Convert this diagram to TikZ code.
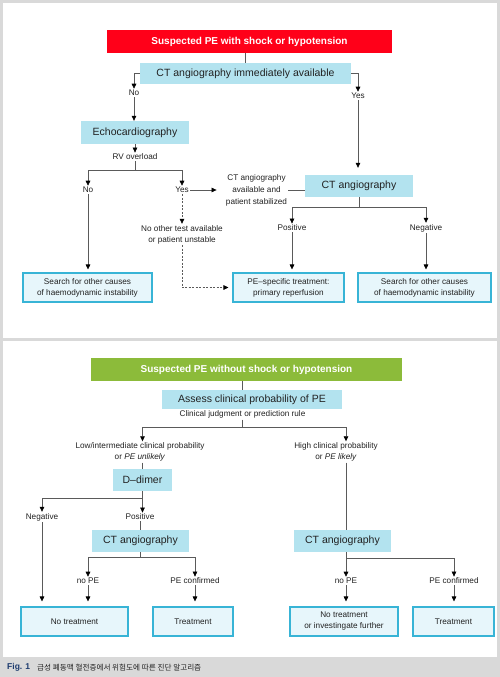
\documentclass[tikz,border=0pt]{standalone}
\usepackage{fontspec}
\setmainfont{Liberation Sans}
\newfontfamily\krfont{Noto Sans CJK KR}
\usetikzlibrary{arrows.meta}
\definecolor{bgray}{HTML}{D9D9D9}
\definecolor{pered}{HTML}{FF0019}
\definecolor{pegreen}{HTML}{8CBB3A}
\definecolor{qblue}{HTML}{B3E3EF}
\definecolor{ofill}{HTML}{E7F6FB}
\definecolor{ocyan}{HTML}{38B4D6}
\definecolor{lgray}{HTML}{5A5A5A}
\definecolor{txt}{HTML}{222222}
\definecolor{navy}{HTML}{1B3A6E}
\begin{document}
\begin{tikzpicture}[x=1pt,y=-1pt,
  hdr/.style={inner sep=0pt, text=white, font=\bfseries\fontsize{10}{12}\selectfont, minimum height=23pt},
  qbox/.style={fill=qblue, inner sep=0pt, text=txt, font=\fontsize{10.5}{12}\selectfont},
  obox/.style={draw=ocyan, line width=1.1pt, fill=ofill, inner sep=0pt, minimum height=29pt, align=center, text=txt, font=\fontsize{8.2}{11}\selectfont},
  lbl/.style={inner sep=1.2pt, align=center, text=txt, font=\fontsize{8.2}{11}\selectfont},
  ln/.style={draw=lgray, line width=0.6pt},
  arr/.style={ln, -{Triangle[length=5pt,width=4.6pt,color=black,fill=black]}},
  oarr/.style={arr, shorten >=3pt},
  dsh/.style={dash pattern=on 2pt off 1.5pt}
]
% backgrounds
\fill[bgray] (0,0) rectangle (500,677);
\fill[white] (3,3) rectangle (497,338);
\fill[white] (3,341) rectangle (497,657);
\node[anchor=west, inner sep=0pt, text=navy, font=\bfseries\fontsize{8.5}{10}\selectfont] (fig) at (7,667.5) {Fig. 1};
\node[anchor=west, inner sep=0pt, text=txt, font=\krfont\fontsize{7.6}{9}\selectfont] (cap) at (37,667.5) {급성 폐동맥 혈전증에서 위험도에 따른 진단 알고리즘};

% ---------- panel 1 ----------
\node[hdr, fill=pered, minimum width=285pt] (red) at (249.5,41.5) {Suspected PE with shock or hypotension};
\node[qbox, minimum width=211pt, minimum height=21pt] (ct1) at (245.5,73.5) {CT angiography immediately available};
\node[qbox, minimum width=108pt, minimum height=23pt] (echo) at (135,132.5) {Echocardiography};
\node[qbox, minimum width=108pt, minimum height=22pt] (ct2) at (359,186) {CT angiography};
\node[obox, minimum width=129pt] (srch1) at (87.5,287.5) {Search for other causes\\of haemodynamic instability};
\node[obox, minimum width=111pt] (pe) at (288.5,287.5) {PE–specific treatment:\\primary reperfusion};
\node[obox, minimum width=133pt] (srch2) at (424.5,287.5) {Search for other causes\\of haemodynamic instability};

\node[lbl] (lNo1) at (134,93) {No};
\node[lbl] (lYes1) at (358,96) {Yes};
\node[lbl] (lRV) at (135,157) {RV overload};
\node[lbl] (lNo2) at (88,190) {No};
\node[lbl] (lYes2) at (182,190) {Yes};
\node[lbl, font=\fontsize{8.2}{12}\selectfont] (lCT) at (256.5,190) {CT angiography\\available and\\patient stabilized};
\node[lbl] (lNoOther) at (182,234.5) {No other test available\\or patient unstable};
\node[lbl] (lPos1) at (292,228) {Positive};
\node[lbl] (lNeg1) at (426,228) {Negative};
\coordinate (j1) at (135,170);
\coordinate (j2) at (359,207);

\draw[ln] (ct1.north |- red.south) -- (ct1.north);
\draw[arr] (ct1.west) -| (lNo1.north);
\draw[arr] (lNo1.south) -- (lNo1.south |- echo.north);
\draw[arr] (ct1.east) -| (lYes1.north);
\draw[arr, shorten >=7pt] (lYes1.south) -- (lYes1.south |- ct2.north);
\draw[arr] (echo.south) -- (lRV.north);
\draw[ln] (lRV.south) -- (j1);
\draw[arr] (j1) -| (lNo2.north);
\draw[arr] (j1) -| (lYes2.north);
\draw[oarr] (lNo2.south) -- (lNo2.south |- srch1.north);
\draw[arr, shorten >=8pt] (lYes2.east) -- (lYes2.east -| lCT.west);
\draw[ln] (lCT.east) -- (lCT.east -| ct2.west);
\draw[arr, dsh] (lYes2.south) -- (lNoOther.north);
\draw[arr, dsh, shorten >=4pt] (lNoOther.south) |- (pe.west);
\draw[ln] (ct2.south) -- (j2);
\draw[arr] (j2) -| (lPos1.north);
\draw[arr] (j2) -| (lNeg1.north);
\draw[oarr] (lPos1.south) -- (lPos1.south |- pe.north);
\draw[oarr] (lNeg1.south) -- (lNeg1.south |- srch2.north);

% ---------- panel 2 ----------
\node[hdr, fill=pegreen, minimum width=311pt] (green) at (246.5,369.5) {Suspected PE without shock or hypotension};
\node[qbox, minimum width=180pt, minimum height=19pt] (assess) at (252,399.5) {Assess clinical probability of PE};
\node[lbl] (lClin) at (242.5,414.5) {Clinical judgment or prediction rule};
\node[lbl] (lLow) at (140,452) {Low/intermediate clinical probability\\or \textit{PE unlikely}};
\node[lbl] (lHigh) at (336,452) {High clinical probability\\or \textit{PE likely}};
\node[qbox, minimum width=59pt, minimum height=22pt] (dd) at (142.5,480) {D–dimer};
\node[lbl] (lNeg2) at (42,517) {Negative};
\node[lbl] (lPos2) at (140,517) {Positive};
\node[qbox, minimum width=97pt, minimum height=22pt] (ct3) at (140.5,541) {CT angiography};
\node[qbox, minimum width=97pt, minimum height=22pt] (ct4) at (342.5,541) {CT angiography};
\node[lbl] (lnoPE1) at (88,581) {no PE};
\node[lbl] (lPEc1) at (195,581) {PE confirmed};
\node[lbl] (lnoPE2) at (346,581) {no PE};
\node[lbl] (lPEc2) at (454,581) {PE confirmed};
\node[obox, minimum width=107pt] (notr1) at (74.5,621.5) {No treatment};
\node[obox, minimum width=80pt] (tr1) at (193,621.5) {Treatment};
\node[obox, minimum width=108pt] (notr2) at (344,621.5) {No treatment\\or investingate further};
\node[obox, minimum width=81pt] (tr2) at (453.5,621.5) {Treatment};
\coordinate (j3) at (242.5,427);
\coordinate (j4) at (142.5,498);
\coordinate (j5) at (140.5,557.5);
\coordinate (j6) at (346,558);

\draw[ln] (lClin.north |- green.south) -- (lClin.north |- assess.north);
\draw[ln] (lClin.south) -- (j3);
\draw[arr] (j3) -| (dd.north |- lLow.north);
\draw[arr] (j3) -| (lnoPE2.north |- lHigh.north);
\draw[ln] (dd.north |- lLow.south) -- (dd.north);
\draw[ln] (lnoPE2.north |- lHigh.south) -- (lnoPE2.north |- ct4.north);
\draw[ln] (dd.south) -- (j4);
\draw[arr] (j4) -| (lNeg2.north);
\draw[arr] (j4) -- (j4 |- lPos2.north);
\draw[arr, shorten >=5pt] (lNeg2.south) -- (lNeg2.south |- notr1.north);
\draw[ln] (lPos2.south) -- (lPos2.south |- ct3.north);
\draw[ln] (ct3.south) -- (j5);
\draw[arr] (j5) -| (lnoPE1.north);
\draw[arr] (j5) -| (lPEc1.north);
\draw[arr, shorten >=5pt] (lnoPE1.south) -- (lnoPE1.south |- notr1.north);
\draw[arr, shorten >=5pt] (lPEc1.south) -- (lPEc1.south |- tr1.north);
\draw[ln] (j6 |- ct4.south) -- (j6);
\draw[arr] (j6) -- (lnoPE2.north);
\draw[arr] (j6) -| (lPEc2.north);
\draw[arr, shorten >=5pt] (lnoPE2.south) -- (lnoPE2.south |- notr2.north);
\draw[arr, shorten >=5pt] (lPEc2.south) -- (lPEc2.south |- tr2.north);
\end{tikzpicture}
\end{document}
